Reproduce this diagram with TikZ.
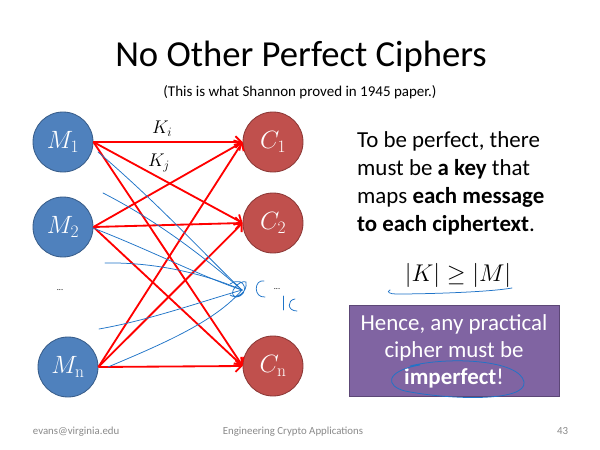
\RequirePackage{fix-cm}
\documentclass[tikz,border=0pt]{standalone}
\usepackage[no-math]{fontspec}
\setmainfont{Carlito}
\usetikzlibrary{arrows.meta}
\definecolor{msgblue}{HTML}{4F81BD}
\definecolor{msgedge}{HTML}{385D8A}
\definecolor{ctxred}{HTML}{C0504D}
\definecolor{ctxedge}{HTML}{8C3836}
\definecolor{boxpurple}{HTML}{8064A2}
\definecolor{boxedge}{HTML}{5C4776}
\definecolor{ink}{HTML}{1F74C8}
\definecolor{footgray}{HTML}{8A8A8A}
\tikzstyle{message} = [circle, minimum size=72pt, inner sep=0pt, draw=msgedge, line width=1pt, fill=msgblue, text=white, font=\fontsize{30}{34}\selectfont]
\tikzstyle{cipher} = [circle, minimum size=72pt, inner sep=0pt, draw=ctxedge, line width=1pt, fill=ctxred, text=white, font=\fontsize{30}{34}\selectfont]
\tikzstyle{keyarrow} = [red, line width=2.2pt, -{Straight Barb[length=7pt,width=14pt]}]
\tikzstyle{scrawl} = [ink, line width=0.9pt, line cap=round]
\tikzstyle{footer} = [text=footgray, font=\fontsize{13}{15}\selectfont]

\begin{document}
\begin{tikzpicture}[x=1.2pt, y=-1.2pt]
  \useasboundingbox[fill=white] (0,0) rectangle (600,450);
  % title
  \node (title) [font=\fontsize{44}{52}\selectfont, anchor=base] at (301,67) {No Other Perfect Ciphers};
  \node (sub) [font=\fontsize{18}{22}\selectfont, anchor=base] at (300,97) {(This is what Shannon proved in 1945 paper.)};
  % messages and ciphertexts
  \node (m1) [message] at (63,142) {$M_1$};
  \node (m2) [message] at (63,227) {$M_2$};
  \node (mdots) [font=\normalsize] at (60,290) {...};
  \node (mn) [message] at (68,367) {$M_{\mathrm{n}}$};
  \node (c1) [cipher] at (273,142) {$C_1$};
  \node (c2) [cipher] at (273,223) {$C_2$};
  \node (cn) [cipher] at (273,366) {$C_{\mathrm{n}}$};
  % keys
  \draw [keyarrow] (m1.east) -- (c1.west);
  \draw [keyarrow] (m1.east) -- (c2.west);
  \draw [keyarrow] (m1.east) -- (cn.west);
  \draw [keyarrow] (m2.east) -- (c1.west);
  \draw [keyarrow] (m2.east) -- (c2.west);
  \draw [keyarrow] (m2.east) -- (cn.west);
  \draw [keyarrow] (mn.east) -- (c1.west);
  \draw [keyarrow] (mn.east) -- (c2.west);
  \draw [keyarrow] (mn.east) -- (cn.west);
  \node (ki) [font=\fontsize{22}{26}\selectfont] at (162,129) {$K_i$};
  \node (kj) [font=\fontsize{22}{26}\selectfont] at (159,163) {$K_j$};
  % handwriting
  \coordinate (hub) at (242,290);
  \draw [scrawl] (98,152) .. controls (160,205) and (205,255) .. (hub);
  \draw [scrawl] (103,193) .. controls (160,222) and (210,262) .. (hub);
  \draw [scrawl] (93,228) .. controls (150,250) and (200,276) .. (hub);
  \draw [scrawl] (105,263) .. controls (160,262) and (210,276) .. (hub);
  \draw [scrawl] (99,329) .. controls (150,320) and (200,302) .. (hub);
  \draw [scrawl] (108,367) .. controls (160,345) and (215,322) .. (hub);
  \draw [scrawl] (230,284) .. controls (246,274) and (250,296) .. (236,297) .. controls (226,294) and (240,279) .. (246,282) .. controls (248,292) and (236,300) .. (230,295);
  \draw [scrawl] (264,281) .. controls (254,279) and (253,298) .. (265,297);
  \node (cdots) [font=\normalsize] at (277,289) {...};
  \draw [scrawl] (283,296) -- (283,310);
  \draw [scrawl] (295,299) .. controls (287,300) and (287,311) .. (297,311);
  % right hand text
  \node (claim) [anchor=north west, align=left, inner sep=0pt, font=\fontsize{27.5}{33.6}\selectfont] at (357,131)
    {To be perfect, there\\must be \textbf{a key} that\\maps \textbf{each message}\\\textbf{to each ciphertext}.};
  \node (bound) [font=\fontsize{29}{34}\selectfont, anchor=base] at (458,281) {$|K| \geq |M|$};
  \draw [scrawl] (390,290) .. controls (386,292) and (390,294) .. (396,294) .. controls (430,294) and (490,292) .. (512,288);
  \node (hence) [rectangle, draw=boxedge, line width=1pt, fill=boxpurple, text=white, minimum width=252pt, minimum height=110pt, align=center, font=\fontsize{27.5}{32.5}\selectfont] at (454,351)
    {Hence, any practical\\cipher must be\\\textbf{imperfect}!};
  \draw [scrawl] (410,366) .. controls (450,356) and (520,360) .. (524,382) .. controls (527,402) and (450,400) .. (405,391) .. controls (385,386) and (385,371) .. (420,365);
  % footer
  \node (who) [footer, anchor=base west] at (30,434) {evans@virginia.edu};
  \node (course) [footer, anchor=base] at (293,434) {Engineering Crypto Applications};
  \node (page) [footer, anchor=base east] at (571,434) {43};
\end{tikzpicture}
\end{document}
